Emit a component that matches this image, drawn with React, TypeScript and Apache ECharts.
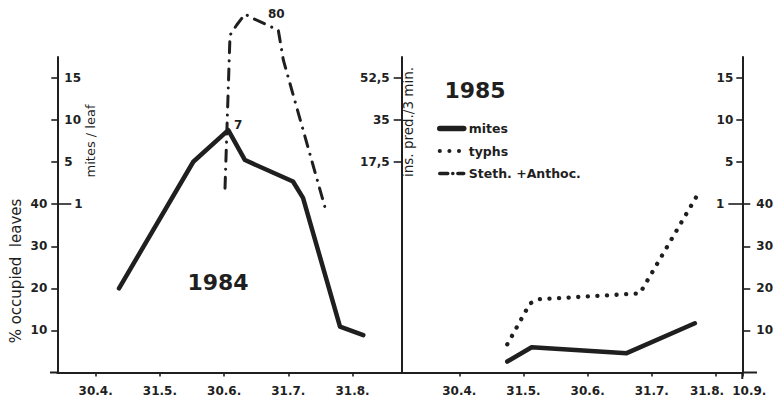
import React, { useEffect, useRef } from 'react';
import * as echarts from 'echarts';

// x values are months (4 = 30.4., 5 = 31.5., ...)
const X_TICKS_1984 = [4, 5, 6, 7, 8];
const X_LABELS_1984 = ['30.4.', '31.5.', '30.6.', '31.7.', '31.8.'];
const X_TICKS_1985 = [4, 5, 6, 7, 8, 8.41];
const X_LABELS_1985 = ['30.4.', '31.5.', '30.6.', '31.7.', '31.8.', '10.9.'];

// y values in "% occupied leaves" units; upper part of the axis re-labelled
const PCT_TICKS = [10, 20, 30, 40];
const PCT_LABELS = ['10', '20', '30', '40'];
const MITES_LEAF_TICKS = [50, 60, 70];
const MITES_LEAF_LABELS = ['5', '10', '15'];
const MITES_LEAF_ONE = [40];
const PRED_TICKS = [50, 60, 70];
const PRED_LABELS = ['17,5', '35', '52,5'];

// 1984 panel
const mites1984 = [[4.363, 20.0], [5.52, 50.1], [6.065, 57.6], [6.325, 50.5], [7.073, 45.4], [7.229, 41.5], [7.805, 10.9], [8.168, 8.9]];
const steth1984 = [[6.014, 43.8], [6.092, 80.2], [6.196, 82.6], [6.326, 85.2], [6.446, 84.2], [6.844, 81.4], [6.922, 74.3], [7.598, 37.8]];
// 1985 panel
const typhs1985 = [[4.748, 6.7], [5.101, 16.4], [5.23, 17.4], [6.814, 18.8], [7.687, 41.6]];
const mites1985 = [[4.748, 2.6], [5.128, 6.0], [6.608, 4.6], [7.671, 11.7]];

const PEAK_LABELS = ['7', '80'];

const INK = '#1f1f1f';
const FONT = '"DejaVu Sans", "Liberation Sans", sans-serif';

const pick = (vals: number[], labels: string[]) => (v: number) => {
  const i = vals.findIndex((x) => Math.abs(x - v) < 1e-6);
  return i >= 0 ? labels[i] : '';
};

export default function App() {
  const ref = useRef<HTMLDivElement>(null);
  useEffect(() => {
    if (!ref.current) return;
    const chart = echarts.init(ref.current, null, { renderer: 'svg' });
    const lab = { fontFamily: FONT, fontWeight: 'bold' as const, fontSize: 12, color: INK };
    const axisLine = { show: true, lineStyle: { color: INK, width: 2 } };
    const tickStyle = { color: INK, width: 1.6 };
    const yBase = { type: 'value' as const, min: 0, max: 75, splitLine: { show: false } };
    const peakLabel = { show: true, position: 'top', distance: 0, ...lab, textBorderWidth: 0, opacity: 1 };

    const option: any = {
      animation: false,
      backgroundColor: '#ffffff',
      grid: [
        { left: 57.3, top: 57, width: 344.4, bottom: 30.5, outerBoundsMode: 'none' },
        { left: 401.7, top: 57, width: 340.6, bottom: 30.5, outerBoundsMode: 'none' },
      ],
      xAxis: [
        {
          gridIndex: 0, type: 'value', min: 3.402, max: 8.766,
          axisLine, splitLine: { show: false },
          axisTick: { customValues: X_TICKS_1984, length: 4, lineStyle: tickStyle },
          axisLabel: { customValues: X_TICKS_1984, formatter: pick(X_TICKS_1984, X_LABELS_1984), margin: 12, ...lab },
        },
        {
          gridIndex: 1, type: 'value', min: 3.103, max: 8.41,
          axisLine, splitLine: { show: false },
          axisTick: { customValues: X_TICKS_1985, length: 4, lineStyle: tickStyle },
          axisLabel: {
            customValues: X_TICKS_1985,
            formatter: (v: number) => {
              const t = pick(X_TICKS_1985, X_LABELS_1985)(v);
              if (Math.abs(v - 8) < 1e-6) return '{l|' + t + '}';
              if (Math.abs(v - 8.41) < 1e-6) return '{r|' + t + '}';
              return t;
            },
            margin: 12, ...lab,
            rich: {
              l: { ...lab, padding: [0, 18, 0, 0] },
              r: { ...lab, padding: [0, 0, 0, 14] },
            },
          },
        },
      ],
      yAxis: [
        {
          ...yBase, gridIndex: 0, position: 'left', axisLine,
          axisTick: { customValues: [...PCT_TICKS, ...MITES_LEAF_TICKS], length: 6, lineStyle: tickStyle },
          axisLabel: { customValues: PCT_TICKS, formatter: pick(PCT_TICKS, PCT_LABELS), margin: 10, ...lab },
        },
        {
          ...yBase, gridIndex: 0, position: 'left', axisLine: { show: false }, axisTick: { show: false },
          axisLabel: { inside: true, customValues: MITES_LEAF_TICKS, formatter: pick(MITES_LEAF_TICKS, MITES_LEAF_LABELS), margin: 7, ...lab },
        },
        {
          ...yBase, gridIndex: 0, position: 'left', axisLine: { show: false },
          axisTick: { inside: true, customValues: MITES_LEAF_ONE, length: 14, lineStyle: tickStyle },
          axisLabel: { inside: true, customValues: MITES_LEAF_ONE, formatter: () => '1', margin: 17, ...lab },
        },
        {
          ...yBase, gridIndex: 1, position: 'left', axisLine,
          axisTick: { customValues: PRED_TICKS, length: 8, lineStyle: tickStyle },
          axisLabel: { customValues: PRED_TICKS, formatter: pick(PRED_TICKS, PRED_LABELS), margin: 12, ...lab },
        },
        {
          ...yBase, gridIndex: 1, position: 'right', axisLine,
          axisTick: { customValues: PCT_TICKS, length: 8, lineStyle: tickStyle },
          axisLabel: { customValues: PCT_TICKS, formatter: pick(PCT_TICKS, PCT_LABELS), margin: 14, ...lab },
        },
        {
          ...yBase, gridIndex: 1, position: 'right', axisLine: { show: false },
          axisTick: { inside: true, customValues: MITES_LEAF_TICKS, length: 6, lineStyle: tickStyle },
          axisLabel: { inside: true, customValues: MITES_LEAF_TICKS, formatter: pick(MITES_LEAF_TICKS, MITES_LEAF_LABELS), margin: 9, ...lab },
        },
        {
          ...yBase, gridIndex: 1, position: 'right', axisLine: { show: false },
          axisTick: { inside: true, customValues: MITES_LEAF_ONE, length: 14, lineStyle: tickStyle },
          axisLabel: { inside: true, customValues: MITES_LEAF_ONE, formatter: () => '1', margin: 18, ...lab },
        },
      ],
      legend: {
        orient: 'vertical', left: 437, top: 122, padding: 0, itemWidth: 24, itemHeight: 14, itemGap: 9.5,
        selectedMode: false,
        itemStyle: { color: 'rgba(0,0,0,0)', borderWidth: 0, opacity: 0 },
        data: [
          { name: 'mites', lineStyle: { width: 5.5 } },
          { name: 'typhs', lineStyle: { width: 4 } },
          { name: 'Steth. +Anthoc.', lineStyle: { width: 3.5, type: [8, 5, 0.1, 5] } },
        ],
        textStyle: { fontFamily: FONT, fontWeight: 'bold', fontSize: 12.5, color: INK },
      },
      series: [
        {
          name: 'mites', type: 'line', xAxisIndex: 0, yAxisIndex: 0, data: mites1984,
          symbol: 'none', clip: false,
          lineStyle: { color: INK, width: 4.5, cap: 'round', join: 'round' },
          itemStyle: { color: INK },
        },
        {
          name: 'Steth. +Anthoc.', type: 'line', xAxisIndex: 0, yAxisIndex: 0, data: steth1984,
          symbol: 'none', clip: false,
          lineStyle: { color: INK, width: 3, type: [11, 8, 0.1, 8], cap: 'round', join: 'round' },
          itemStyle: { color: INK },
        },
        {
          name: 'typhs', type: 'line', xAxisIndex: 1, yAxisIndex: 3, data: typhs1985,
          symbol: 'none', clip: false,
          lineStyle: { color: INK, width: 4.3, type: [0.1, 9.5], cap: 'round', join: 'round' },
          itemStyle: { color: INK },
        },
        {
          name: 'mites', type: 'line', xAxisIndex: 1, yAxisIndex: 3, data: mites1985,
          symbol: 'none', clip: false,
          lineStyle: { color: INK, width: 4.5, cap: 'round', join: 'round' },
          itemStyle: { color: INK },
        },
        {
          name: 'peaks', type: 'scatter', xAxisIndex: 0, yAxisIndex: 0, symbolSize: 1, silent: true, clip: false,
          itemStyle: { color: INK, opacity: 1 },
          data: [
            { value: mites1984[2], label: { ...peakLabel, formatter: PEAK_LABELS[0], offset: [10, 1] } },
            { value: steth1984[5], label: { ...peakLabel, formatter: PEAK_LABELS[1], offset: [-2, -10] } },
          ],
          label: { ...lab },
        },
      ],
      graphic: [
        { type: 'text', x: 218, y: 282, style: { text: '1984', fontFamily: FONT, fontWeight: 'bold', fontSize: 22, fill: INK, align: 'center', verticalAlign: 'middle' } },
        { type: 'text', x: 475, y: 90, style: { text: '1985', fontFamily: FONT, fontWeight: 'bold', fontSize: 22, fill: INK, align: 'center', verticalAlign: 'middle' } },
        { type: 'text', x: 16, y: 271, rotation: Math.PI / 2, style: { text: '% occupied  leaves', fontFamily: FONT, fontSize: 15, fill: INK, align: 'center', verticalAlign: 'middle' } },
        { type: 'text', x: 90, y: 141, rotation: Math.PI / 2, style: { text: 'mites / leaf', fontFamily: FONT, fontSize: 13, fill: INK, align: 'center', verticalAlign: 'middle' } },
        { type: 'text', x: 408, y: 122, rotation: Math.PI / 2, style: { text: 'ins. pred./3 min.', fontFamily: FONT, fontSize: 13.5, fill: INK, align: 'center', verticalAlign: 'middle' } },
        { type: 'line', shape: { x1: 50, y1: 372.5, x2: 57.3, y2: 372.5 }, style: { stroke: INK, lineWidth: 2 } },
        { type: 'line', shape: { x1: 742.3, y1: 372.5, x2: 757, y2: 372.5 }, style: { stroke: INK, lineWidth: 2 } },
        { type: 'line', shape: { x1: 742.3, y1: 372.5, x2: 742.3, y2: 379 }, style: { stroke: INK, lineWidth: 2 } },
      ],
    };
    chart.setOption(option);
    return () => chart.dispose();
  }, []);
  return <div ref={ref} style={{ position: 'fixed', left: 0, top: 0, width: 777, height: 403 }} />;
}
